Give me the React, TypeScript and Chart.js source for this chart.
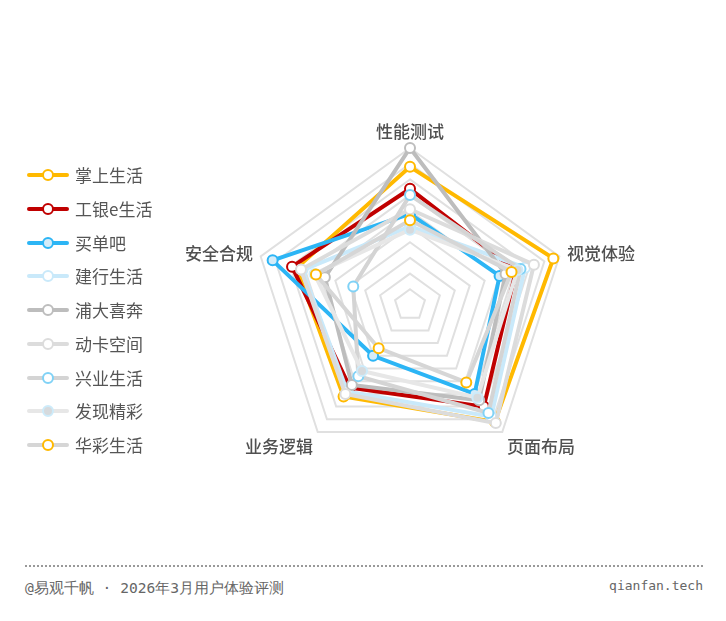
import React, { useEffect, useRef } from "react";
import { Chart, registerables } from "chart.js";

Chart.register(...registerables);

const indicators = ["性能测试", "视觉体验", "页面布局", "业务逻辑", "安全合规"];

const seriesNames = ["掌上生活", "工银e生活", "买单吧", "建行生活", "浦大喜奔", "动卡空间", "兴业生活", "发现精彩", "华彩生活"];

const zhangshang = [88, 96, 92, 72, 76];
const gongyin = [74, 71, 80, 65, 79];
const maidanba = [58, 60, 70, 40, 92];
const jianhang = [50, 77, 88, 68, 72];
const pudaxiben = [100, 64, 75, 63, 57];
const dongka = [61, 83, 93, 70, 73];
const xingye = [70, 74, 85, 56, 38];
const faxian = [48, 72, 73, 52, 64];
const huacai = [54, 68, 61, 34, 63];

const seriesValues = [zhangshang, gongyin, maidanba, jianhang, pudaxiben, dongka, xingye, faxian, huacai];

const lineColors = ["#FFB900", "#C00000", "#2CB5F5", "#C9E9FA", "#BDBDBD", "#DCDCDC", "#D4D4D4", "#E7E7E7", "#D6D6D6"];
const markerBorders = ["#FFB900", "#C00000", "#2CB5F5", "#C9E9FA", "#BDBDBD", "#DCDCDC", "#80D2F6", "#CDEBFA", "#FFB900"];
const markerFills = ["#FFFFFF", "#FFFFFF", "#D4ECF9", "#FFFFFF", "#FFFFFF", "#FFFFFF", "#FFFFFF", "#D6DADD", "#FFFFFF"];

const FONT = "'Noto Sans CJK SC', 'Noto Sans', sans-serif";
const LABEL_GAP = 8;

const indicatorLabelsPlugin = {
  id: "indicatorLabels",
  afterDraw(chart: any) {
    const scale = chart.scales.r;
    const ctx = chart.ctx;
    ctx.save();
    ctx.font = `500 17px ${FONT}`;
    ctx.fillStyle = "#505050";
    const labels = chart.data.labels as string[];
    labels.forEach((label, i) => {
      const p = scale.getPointPosition(i, scale.drawingArea + LABEL_GAP);
      const c = Math.cos(p.angle);
      const s = Math.sin(p.angle);
      ctx.textAlign = Math.abs(c) < 0.05 ? "center" : c > 0 ? "left" : "right";
      ctx.textBaseline = s < -0.9 ? "bottom" : s > 0.5 ? "top" : "middle";
      ctx.fillText(label, p.x, p.y);
    });
    ctx.restore();
  },
};

export default function App() {
  const ref = useRef<HTMLCanvasElement | null>(null);

  useEffect(() => {
    if (!ref.current) return;
    const n = seriesNames.length;
    const chart = new Chart(ref.current, {
      type: "radar",
      data: {
        labels: indicators,
        datasets: seriesNames.map((name, i) => ({
          label: name,
          data: seriesValues[i],
          borderColor: lineColors[i],
          backgroundColor: "rgba(0,0,0,0)",
          borderWidth: 4,
          fill: false,
          pointRadius: 5,
          pointBorderWidth: 2,
          pointBackgroundColor: markerFills[i],
          pointBorderColor: markerBorders[i],
          order: n - i,
        })),
      },
      options: {
        responsive: true,
        maintainAspectRatio: false,
        animation: false,
        layout: { padding: { top: 140, bottom: 94, left: 245, right: 151 } },
        plugins: { legend: { display: false }, tooltip: { enabled: false } },
        elements: { line: { tension: 0 } },
        scales: {
          r: {
            min: 0,
            max: 100,
            ticks: { stepSize: 10, display: false },
            grid: { color: "#E0E0E0", lineWidth: 2 },
            angleLines: { display: false },
            pointLabels: { display: false },
          },
        },
      },
      plugins: [indicatorLabelsPlugin],
    });
    return () => chart.destroy();
  }, []);

  return (
    <div style={{ position: "relative", width: 710, height: 605, fontFamily: FONT }}>
      <div style={{ position: "absolute", left: 0, top: 0, width: 710, height: 548 }}>
        <canvas ref={ref} />
      </div>
      {seriesNames.map((name, i) => {
        const cy = 167 + i * 33.75;
        return (
          <div key={name} style={{ position: "absolute", left: 0, top: cy - 15, height: 30, width: 160 }}>
            <div style={{ position: "absolute", left: 19, top: 13, width: 42, height: 4, borderRadius: 2, background: lineColors[i] }} />
            <div
              style={{
                position: "absolute",
                left: 34,
                top: 9,
                width: 12,
                height: 12,
                boxSizing: "border-box",
                borderRadius: "50%",
                border: `2px solid ${markerBorders[i]}`,
                background: markerFills[i],
              }}
            />
            <div style={{ position: "absolute", left: 67, top: 0, lineHeight: "30px", fontSize: 17, color: "#555" }}>{name}</div>
          </div>
        );
      })}
      <div style={{ position: "absolute", left: 17, top: 557, width: 678, borderTop: "2px dotted #999" }} />
      <div style={{ position: "absolute", left: 17, top: 570, fontSize: 14.6, color: "#666", fontFamily: "'DejaVu Sans Mono', monospace", lineHeight: "20px", whiteSpace: "nowrap" }}>
        @易观千帆 · 2026年3月用户体验评测
      </div>
      <div style={{ position: "absolute", right: 15, top: 568, fontSize: 13, color: "#666", fontFamily: "'DejaVu Sans Mono', monospace", lineHeight: "20px" }}>
        qianfan.tech
      </div>
    </div>
  );
}
